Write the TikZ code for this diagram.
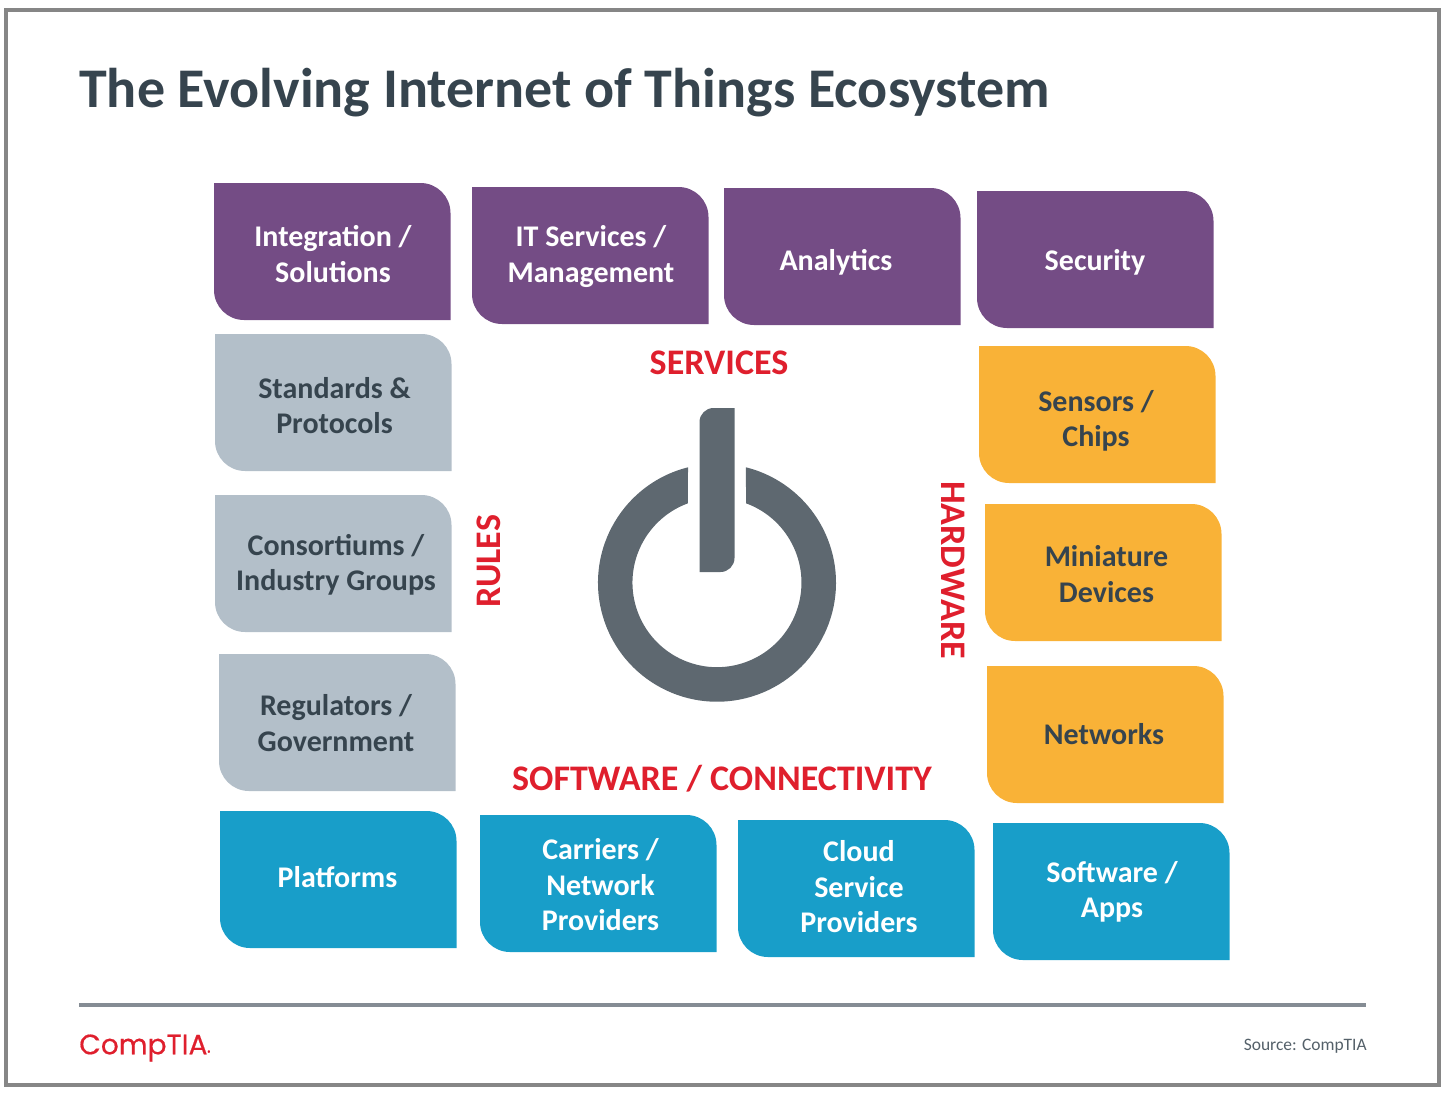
\documentclass[tikz,border=0pt]{standalone}
\usepackage{fontspec}
\setmainfont{Carlito}
\newfontfamily\logofont[FakeBold=0.5]{Poppins}
\definecolor{tilepurple}{HTML}{744C85}
\definecolor{tilegray}{HTML}{B3BFC9}
\definecolor{tileorange}{HTML}{F9B237}
\definecolor{tileblue}{HTML}{189EC9}
\definecolor{darktext}{HTML}{36444E}
\definecolor{redtext}{HTML}{DF1F2D}
\definecolor{iconcolor}{HTML}{5E6870}
\definecolor{framecolor}{HTML}{868686}
\definecolor{rulecolor}{HTML}{858C94}
\newcommand{\tile}[3]{\fill[#3] (#1,#2) -- ++(206.5,0) arc (-90:0:30) -- ++(0,107) -- ++(-206.5,0) arc (90:180:30) -- cycle;}
\tikzset{
    lighttext/.style={align=center, text=white, font=\fontsize{22.5}{26.6}\selectfont\bfseries},
    darkbox/.style={align=center, text=darktext, font=\fontsize{22.5}{26.6}\selectfont\bfseries},
    grouplabel/.style={text=redtext, font=\fontsize{27}{32}\selectfont\bfseries}
}

\begin{document}
\begin{tikzpicture}[x=0.75pt, y=-0.75pt]
    \useasboundingbox (0,0) rectangle (1448,1096);
    \draw[framecolor, line width=2.4pt] (6,10) rectangle (1439,1085);

    \node (title) [anchor=west, text=darktext, inner sep=0pt, font=\fontsize{42}{50}\selectfont\bfseries] at (79,93) {The Evolving Internet of Things Ecosystem};

    \tile{214}{183}{tilepurple}
    \tile{472}{187}{tilepurple}
    \tile{724}{188}{tilepurple}
    \tile{977}{191}{tilepurple}
    \tile{215}{334}{tilegray}
    \tile{215}{495}{tilegray}
    \tile{219}{654}{tilegray}
    \tile{979}{346}{tileorange}
    \tile{985}{504}{tileorange}
    \tile{987}{666}{tileorange}
    \tile{220}{811}{tileblue}
    \tile{480}{815}{tileblue}
    \tile{738}{820}{tileblue}
    \tile{993}{823}{tileblue}

    \node (integration) [lighttext] at (333,254) {Integration /\\Solutions};
    \node (itservices) [lighttext] at (591,256.5) {IT Services /\\Management};
    \node (analytics) [lighttext] at (836,262) {Analytics};
    \node (security) [lighttext] at (1095,262) {Security};
    \node (standards) [darkbox] at (334.5,405.5) {Standards \&\\Protocols};
    \node (consortiums) [darkbox] at (336,565) {Consortiums /\\Industry Groups};
    \node (regulators) [darkbox] at (336,723) {Regulators /\\Government};
    \node (sensors) [darkbox] at (1096,421) {Sensors /\\Chips};
    \node (miniature) [darkbox] at (1106.5,574) {Miniature\\Devices};
    \node (networks) [darkbox] at (1104,734) {Networks};
    \node (platforms) [lighttext] at (337.5,877) {Platforms};
    \node (carriers) [lighttext] at (600.5,885) {Carriers /\\Network\\Providers};
    \node (cloud) [lighttext] at (859,887) {Cloud\\Service\\Providers};
    \node (software) [lighttext] at (1112,892) {Software /\\Apps};

    \node (services) [grouplabel] at (719,363) {SERVICES};
    \node (rules) [grouplabel, rotate=90] at (489,561) {RULES};
    \node (hardware) [grouplabel, rotate=-90] at (953,570) {HARDWARE};
    \node (connectivity) [grouplabel] at (722,779) {SOFTWARE / CONNECTIVITY};

    \fill[iconcolor] (688,467.3) arc (-104.1:-435.9:119) -- (746,503.3) arc (-429.9:-110.1:84.5) -- cycle;
    \fill[iconcolor] (734.5,408) -- (713.5,408) arc (-90:-180:14) -- (699.5,572) -- (720.5,572) arc (90:0:14) -- cycle;

    \coordinate (ruleleft) at (79,1005);
    \coordinate (ruleright) at (1366,1005);
    \draw[rulecolor, line width=2.4pt] (ruleleft) -- (ruleright);

    \node (logo) [anchor=west, inner sep=0pt, text=redtext, font=\fontsize{21}{26}\selectfont\logofont] at (79,1048) {CompTIA{\fontsize{4}{4}\selectfont ®}};
    \node (source) [anchor=east, inner sep=0pt, text=darktext!85, font=\fontsize{13.1}{16}\selectfont] at (1367,1046) {Source: CompTIA};
\end{tikzpicture}
\end{document}
